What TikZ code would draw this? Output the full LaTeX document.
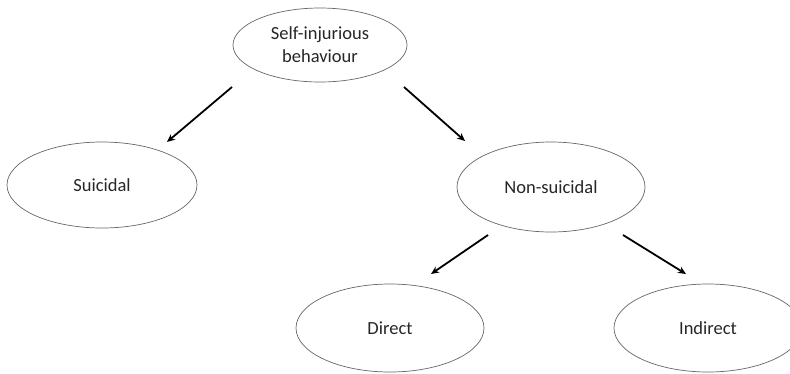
\documentclass[tikz,border=0pt]{standalone}
\usepackage{fontspec}
\setmainfont{Carlito}
\usetikzlibrary{shapes.geometric,arrows.meta}
\begin{document}
\begin{tikzpicture}[x=1pt,y=-1pt,
  oval/.style={draw=black!60,line width=0.7pt,ellipse,inner sep=0pt,
    font=\fontsize{18.5}{23}\selectfont,text=black!85,align=center},
  conn/.style={line width=1.8pt,-{Stealth[length=8pt,width=7pt]}}]
\useasboundingbox (0,0) rectangle (790,373);
\node[oval,minimum width=174pt,minimum height=74pt] (top) at (320,45) {Self-injurious\\behaviour};
\node[oval,minimum width=190pt,minimum height=86pt] (sui) at (102,185) {Suicidal};
\node[oval,minimum width=188pt,minimum height=90pt] (non) at (551,187) {Non-suicidal};
\node[oval,minimum width=188pt,minimum height=88pt] (dir) at (390,328) {Direct};
\node[oval,minimum width=188pt,minimum height=88pt] (ind) at (708,328) {Indirect};
\coordinate (a1) at (232,87); \coordinate (b1) at (167,142);
\coordinate (a2) at (404,87); \coordinate (b2) at (465,141);
\coordinate (a3) at (488,235); \coordinate (b3) at (431,274);
\coordinate (a4) at (623,235); \coordinate (b4) at (686,274);
\draw[conn] (a1) -- (b1);
\draw[conn] (a2) -- (b2);
\draw[conn] (a3) -- (b3);
\draw[conn] (a4) -- (b4);
\end{tikzpicture}
\end{document}
